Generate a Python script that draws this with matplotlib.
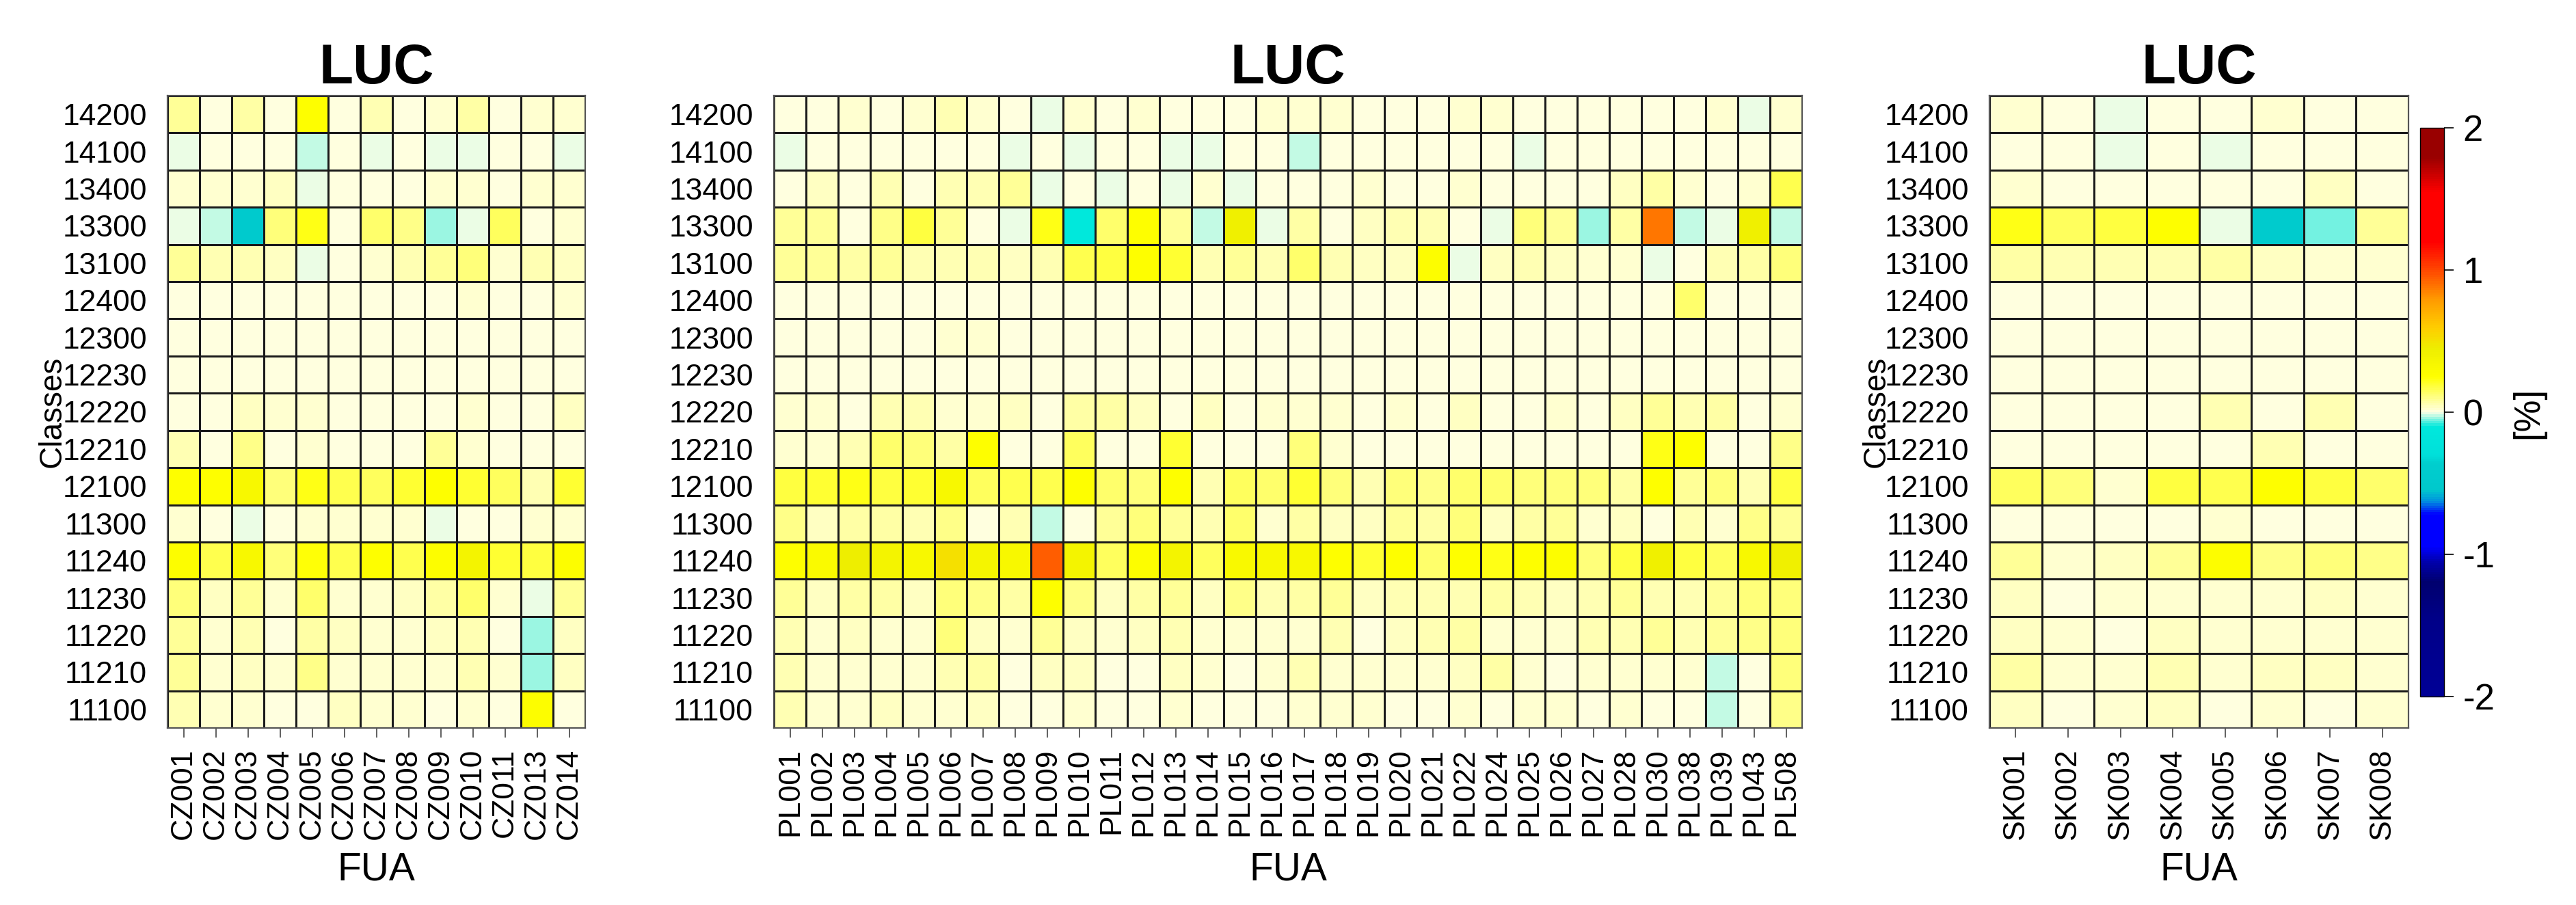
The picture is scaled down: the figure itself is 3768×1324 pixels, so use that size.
import numpy as np
import matplotlib
matplotlib.use('Agg')
import matplotlib.pyplot as plt
from matplotlib.colors import LinearSegmentedColormap, Normalize

plt.rcParams['font.family'] = ['Liberation Sans', 'DejaVu Sans']
plt.rcParams['axes.unicode_minus'] = False

# rows top to bottom
classes = ['14200', '14100', '13400', '13300', '13100', '12400', '12300', '12230',
           '12220', '12210', '12100', '11300', '11240', '11230', '11220', '11210', '11100']

cz_fua = ['CZ001', 'CZ002', 'CZ003', 'CZ004', 'CZ005', 'CZ006', 'CZ007', 'CZ008',
          'CZ009', 'CZ010', 'CZ011', 'CZ013', 'CZ014']
pl_fua = ['PL001', 'PL002', 'PL003', 'PL004', 'PL005', 'PL006', 'PL007', 'PL008',
          'PL009', 'PL010', 'PL011', 'PL012', 'PL013', 'PL014', 'PL015', 'PL016',
          'PL017', 'PL018', 'PL019', 'PL020', 'PL021', 'PL022', 'PL024', 'PL025',
          'PL026', 'PL027', 'PL028', 'PL030', 'PL038', 'PL039', 'PL043', 'PL508']
sk_fua = ['SK001', 'SK002', 'SK003', 'SK004', 'SK005', 'SK006', 'SK007', 'SK008']

cz_vals = [
    [0.09, 0.01, 0.07, 0.01, 0.26, 0.01, 0.06, 0.01, 0.03, 0.07, 0.01, 0.02, 0.03],
    [-0.015, 0.01, 0.01, 0.01, -0.022, 0.01, -0.008, 0.01, -0.015, -0.008, 0.01, 0.01, -0.008],
    [0.02, 0.03, 0.03, 0.035, -0.015, 0.01, 0.01, 0.01, 0.02, 0.03, 0.01, 0.02, 0.02],
    [-0.015, -0.03, -0.5, 0.12, 0.22, 0.01, 0.14, 0.10, -0.038, -0.008, 0.15, 0.01, 0.03],
    [0.08, 0.06, 0.06, 0.04, -0.008, 0.01, 0.02, 0.06, 0.09, 0.11, 0.03, 0.05, 0.04],
    [0.01, 0.01, 0.01, 0.01, 0.01, 0.01, 0.01, 0.01, 0.01, 0.03, 0.01, 0.01, 0.02],
    [0.01, 0.01, 0.01, 0.01, 0.01, 0.01, 0.01, 0.01, 0.01, 0.01, 0.01, 0.01, 0.01],
    [0.01, 0.015, 0.01, 0.01, 0.01, 0.01, 0.01, 0.01, 0.01, 0.01, 0.01, 0.01, 0.01],
    [0.01, 0.01, 0.04, 0.02, 0.02, 0.01, 0.01, 0.01, 0.01, 0.03, 0.01, 0.01, 0.04],
    [0.05, 0.01, 0.10, 0.01, 0.02, 0.01, 0.01, 0.01, 0.08, 0.02, 0.01, 0.01, 0.01],
    [0.26, 0.26, 0.33, 0.12, 0.22, 0.16, 0.15, 0.20, 0.26, 0.20, 0.15, 0.06, 0.20],
    [0.02, 0.01, -0.015, 0.01, 0.02, 0.02, 0.02, 0.02, -0.008, 0.01, 0.01, 0.02, 0.03],
    [0.27, 0.17, 0.33, 0.12, 0.24, 0.16, 0.26, 0.16, 0.28, 0.39, 0.20, 0.18, 0.27],
    [0.12, 0.04, 0.08, 0.02, 0.14, 0.03, 0.02, 0.04, 0.07, 0.13, 0.03, -0.015, 0.08],
    [0.08, 0.03, 0.05, 0.01, 0.07, 0.04, 0.02, 0.03, 0.04, 0.06, 0.01, -0.045, 0.04],
    [0.09, 0.03, 0.04, 0.02, 0.10, 0.03, 0.03, 0.02, 0.03, 0.05, 0.02, -0.038, 0.04],
    [0.06, 0.02, 0.02, 0.01, 0.015, 0.04, 0.02, 0.02, 0.01, 0.02, 0.01, 0.27, 0.015],
]

pl_vals = [
    [0.01, 0.01, 0.02, 0.01, 0.02, 0.05, 0.02, 0.01, -0.008, 0.02, 0.01, 0.02, 0.01, 0.01, 0.01, 0.02,
     0.02, 0.02, 0.01, 0.01, 0.01, 0.02, 0.025, 0.01, 0.01, 0.01, 0.01, 0.01, 0.01, 0.02, -0.015, 0.02],
    [-0.008, 0.01, 0.01, 0.01, 0.01, 0.01, 0.01, -0.008, 0.01, -0.008, 0.01, 0.01, -0.008, -0.008, 0.01, 0.01,
     -0.022, 0.01, 0.01, 0.01, 0.01, 0.01, 0.01, -0.008, 0.01, 0.01, 0.01, 0.01, 0.015, 0.01, 0.01, 0.01],
    [0.01, 0.04, 0.01, 0.05, 0.01, 0.06, 0.05, 0.09, -0.008, 0.01, -0.008, 0.015, -0.008, 0.02, -0.015, 0.01,
     0.01, 0.01, 0.02, 0.01, 0.01, 0.02, 0.015, 0.01, 0.01, 0.01, 0.04, 0.07, 0.02, 0.01, 0.02, 0.17],
    [0.09, 0.08, 0.01, 0.10, 0.18, 0.09, 0.01, -0.008, 0.22, -0.10, 0.13, 0.26, 0.09, -0.022, 0.43, -0.008,
     0.07, 0.01, 0.04, 0.06, 0.06, 0.005, -0.008, 0.12, 0.08, -0.038, 0.07, 0.88, -0.03, -0.008, 0.43, -0.03],
    [0.09, 0.09, 0.07, 0.08, 0.05, 0.06, 0.05, 0.04, 0.05, 0.17, 0.18, 0.26, 0.20, 0.05, 0.09, 0.06,
     0.14, 0.06, 0.04, 0.04, 0.27, -0.015, 0.04, 0.06, 0.04, 0.02, 0.03, -0.015, 0.003, 0.06, 0.07, 0.12],
    [0.01, 0.01, 0.01, 0.01, 0.01, 0.01, 0.01, 0.01, 0.01, 0.01, 0.01, 0.01, 0.01, 0.01, 0.01, 0.01,
     0.01, 0.01, 0.01, 0.01, 0.01, 0.01, 0.01, 0.01, 0.01, 0.01, 0.01, 0.01, 0.13, 0.01, 0.01, 0.01],
    [0.01, 0.01, 0.01, 0.01, 0.01, 0.02, 0.02, 0.01, 0.01, 0.01, 0.01, 0.01, 0.01, 0.01, 0.01, 0.01,
     0.01, 0.01, 0.01, 0.01, 0.01, 0.01, 0.01, 0.01, 0.01, 0.01, 0.01, 0.01, 0.01, 0.01, 0.01, 0.01],
    [0.01, 0.01, 0.01, 0.01, 0.01, 0.01, 0.01, 0.01, 0.01, 0.01, 0.01, 0.01, 0.01, 0.01, 0.01, 0.01,
     0.01, 0.01, 0.01, 0.01, 0.01, 0.01, 0.01, 0.01, 0.01, 0.01, 0.01, 0.01, 0.01, 0.01, 0.01, 0.01],
    [0.02, 0.02, 0.015, 0.06, 0.05, 0.02, 0.02, 0.04, 0.01, 0.07, 0.07, 0.04, 0.01, 0.04, 0.01, 0.03,
     0.02, 0.03, 0.015, 0.02, 0.015, 0.04, 0.01, 0.015, 0.03, 0.01, 0.04, 0.08, 0.06, 0.07, 0.01, 0.02],
    [0.02, 0.02, 0.05, 0.13, 0.12, 0.07, 0.26, 0.01, 0.01, 0.15, 0.01, 0.01, 0.20, 0.01, 0.01, 0.01,
     0.12, 0.02, 0.01, 0.01, 0.01, 0.01, 0.01, 0.01, 0.01, 0.01, 0.01, 0.22, 0.26, 0.01, 0.01, 0.10],
    [0.18, 0.20, 0.22, 0.18, 0.20, 0.33, 0.15, 0.17, 0.17, 0.26, 0.13, 0.12, 0.26, 0.06, 0.15, 0.13,
     0.20, 0.12, 0.06, 0.12, 0.10, 0.13, 0.13, 0.12, 0.12, 0.12, 0.07, 0.26, 0.09, 0.12, 0.06, 0.18],
    [0.10, 0.04, 0.07, 0.07, 0.05, 0.10, 0.003, 0.05, -0.022, 0.005, 0.08, 0.12, 0.09, 0.06, 0.13, 0.03,
     0.07, 0.04, 0.04, 0.09, 0.07, 0.12, 0.04, 0.07, 0.09, 0.03, 0.04, 0.0, 0.06, 0.03, 0.10, 0.08],
    [0.25, 0.31, 0.45, 0.39, 0.33, 0.51, 0.37, 0.33, 0.95, 0.39, 0.15, 0.27, 0.39, 0.15, 0.32, 0.33,
     0.33, 0.26, 0.20, 0.26, 0.13, 0.26, 0.22, 0.26, 0.28, 0.12, 0.18, 0.43, 0.18, 0.15, 0.33, 0.43],
    [0.08, 0.04, 0.07, 0.07, 0.04, 0.12, 0.10, 0.07, 0.26, 0.10, 0.04, 0.07, 0.08, 0.04, 0.10, 0.05,
     0.07, 0.08, 0.04, 0.05, 0.06, 0.06, 0.07, 0.05, 0.04, 0.05, 0.09, 0.06, 0.05, 0.09, 0.12, 0.12],
    [0.06, 0.02, 0.04, 0.03, 0.03, 0.12, 0.04, 0.03, 0.09, 0.04, 0.02, 0.04, 0.06, 0.02, 0.02, 0.03,
     0.03, 0.05, 0.015, 0.04, 0.05, 0.07, 0.03, 0.02, 0.03, 0.05, 0.06, 0.09, 0.05, 0.09, 0.10, 0.12],
    [0.06, 0.02, 0.03, 0.03, 0.03, 0.05, 0.07, 0.015, 0.04, 0.04, 0.015, 0.015, 0.04, 0.03, 0.015, 0.02,
     0.05, 0.03, 0.02, 0.03, 0.03, 0.04, 0.07, 0.02, 0.015, 0.02, 0.03, 0.03, 0.02, -0.022, 0.01, 0.12],
    [0.06, 0.02, 0.02, 0.04, 0.02, 0.03, 0.04, 0.015, 0.01, 0.02, 0.015, 0.01, 0.03, 0.015, 0.01, 0.015,
     0.02, 0.03, 0.02, 0.015, 0.015, 0.03, 0.015, 0.02, 0.03, 0.015, 0.02, 0.01, 0.015, -0.022, 0.01, 0.10],
]

sk_vals = [
    [0.02, 0.01, -0.008, 0.01, 0.015, 0.03, 0.01, 0.015],
    [0.005, 0.01, -0.006, 0.01, -0.008, 0.01, 0.01, 0.01],
    [0.025, 0.015, 0.015, 0.01, 0.015, 0.01, 0.04, 0.01],
    [0.22, 0.15, 0.18, 0.26, -0.005, -0.45, -0.057, 0.09],
    [0.07, 0.05, 0.06, 0.05, 0.07, 0.04, 0.02, 0.03],
    [0.01, 0.01, 0.01, 0.01, 0.01, 0.01, 0.01, 0.01],
    [0.01, 0.01, 0.01, 0.01, 0.01, 0.01, 0.01, 0.01],
    [0.01, 0.01, 0.01, 0.01, 0.01, 0.01, 0.01, 0.01],
    [0.005, 0.01, 0.01, 0.01, 0.06, 0.01, 0.05, 0.01],
    [0.005, 0.01, 0.01, 0.01, 0.005, 0.06, 0.01, 0.01],
    [0.15, 0.12, 0.03, 0.18, 0.17, 0.26, 0.18, 0.14],
    [0.01, 0.015, 0.015, 0.015, 0.02, 0.015, 0.01, 0.015],
    [0.09, 0.03, 0.04, 0.09, 0.27, 0.10, 0.12, 0.10],
    [0.04, 0.015, 0.02, 0.03, 0.03, 0.02, 0.04, 0.03],
    [0.04, 0.02, 0.015, 0.04, 0.03, 0.03, 0.02, 0.03],
    [0.07, 0.02, 0.03, 0.05, 0.03, 0.04, 0.04, 0.03],
    [0.04, 0.015, 0.03, 0.04, 0.015, 0.03, 0.015, 0.03],
]

# colour ramp (value, colour)
nodes = [(-2.0, '#000096'), (-1.45, '#000088'), (-1.2, '#00006e'), (-1.05, '#0000b0'),
         (-0.95, '#0000ff'), (-0.72, '#0000ff'), (-0.63, '#0090e0'), (-0.55, '#00c8cc'),
         (-0.36, '#00cece'), (-0.3, '#00e0da'), (-0.1, '#00e8dc'), (0.0, '#ffffe6'),
         (0.25, '#ffff00'), (0.45, '#eeee00'), (0.6, '#ffcc00'), (0.8, '#ff9900'),
         (1.0, '#ff4800'), (1.2, '#ff0000'), (1.55, '#ff0000'), (1.8, '#990000'),
         (2.0, '#990000')]
cmap = LinearSegmentedColormap.from_list('luc', [((v + 2) / 4, c) for v, c in nodes])
norm = Normalize(vmin=-2, vmax=2)

W, H = 3768, 1324
fig = plt.figure(figsize=(W / 100, H / 100), dpi=100)

top, bot = 140, 1065


def panel(x0, x1, fua, vals, ylab_x=None):
    ax = fig.add_axes([x0 / W, 1 - bot / H, (x1 - x0) / W, (bot - top) / H])
    data = np.array(vals)
    m = ax.pcolormesh(np.arange(len(fua) + 1), np.arange(len(classes) + 1), data,
                      cmap=cmap, norm=norm, edgecolors='#1a1a1a', linewidth=0.9)
    ax.set_xlim(0, len(fua))
    ax.set_ylim(len(classes), 0)
    ax.set_xticks(np.arange(len(fua)) + 0.5)
    ax.set_xticklabels(fua, rotation=90, fontsize=32)
    ax.set_yticks(np.arange(len(classes)) + 0.5)
    ax.set_yticklabels(classes, fontsize=32)
    ax.tick_params(axis='x', length=10, width=1.2, pad=11.5, color='#444444')
    ax.tick_params(axis='y', length=0, pad=21.6)
    for s in ax.spines.values():
        s.set_color('#555555')
        s.set_linewidth(1.6)
    ax.set_title('LUC', fontsize=59, fontweight='bold', y=1.0195, pad=0)
    ax.set_xlabel('FUA', fontsize=41)
    ax.xaxis.set_label_coords(0.5, -0.195)
    if ylab_x is not None:
        ax.set_ylabel('Classes', fontsize=33)
        ax.yaxis.set_label_coords(ylab_x, 0.5)
    return m


panel(245, 856, cz_fua, cz_vals, ylab_x=-0.24)
panel(1132, 2636, pl_fua, pl_vals)
mesh = panel(2910, 3523, sk_fua, sk_vals, ylab_x=-0.234)

cax = fig.add_axes([3540 / W, 1 - 1019 / H, 35 / W, 832 / H])
cb = fig.colorbar(mesh, cax=cax, ticks=[-2, -1, 0, 1, 2])
cb.outline.set_linewidth(1.0)
cax.tick_params(labelsize=38, length=10, width=1.2, pad=10)
fig.text(3698 / W, 1 - 604 / H, '[%]', rotation=90, ha='center', va='center', fontsize=38)

fig.savefig('out.png', dpi=100)
